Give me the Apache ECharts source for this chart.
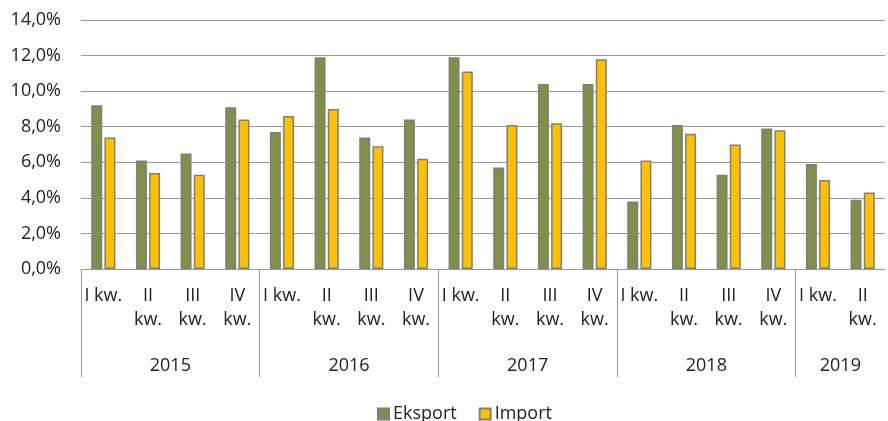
<!DOCTYPE html>
<html>
<head>
<meta charset="utf-8">
<script src="https://cdn.jsdelivr.net/npm/echarts@6/dist/echarts.min.js"></script>
<style>
  html, body { margin: 0; padding: 0; background: #fff; }
  #chart { width: 888px; height: 421px; }
</style>
</head>
<body>
<div id="chart"></div>
<script>
// dane
var years = ['2015', '2016', '2017', '2018', '2019'];
var quartersPerYear = [4, 4, 4, 4, 2];
var quarterLabels = ['I kw.', 'II\nkw.', 'III\nkw.', 'IV\nkw.'];
var eksport = [9.2, 6.1, 6.5, 9.1, 7.7, 11.9, 7.4, 8.4, 11.9, 5.7, 10.4, 10.4, 3.8, 8.1, 5.3, 7.9, 5.9, 3.9];
var importData = [7.4, 5.4, 5.3, 8.4, 8.6, 9.0, 6.9, 6.2, 11.1, 8.1, 8.2, 11.8, 6.1, 7.6, 7.0, 7.8, 5.0, 4.3];

// kategorie kwartalne + os lat (polowki kategorii)
var categories = [];
var yearAxis = [];
var yearBorders = {};
for (var i = 0; i < years.length; i++) {
  yearBorders[yearAxis.length] = true;
  for (var q = 0; q < quartersPerYear[i]; q++) {
    categories.push(quarterLabels[q]);
    yearAxis.push('', '');
  }
}
// podpis roku na srodku grupy
var pos = 0;
for (var i = 0; i < years.length; i++) {
  yearAxis[pos + quartersPerYear[i]] = years[i];
  pos += quartersPerYear[i] * 2;
}
yearAxis.push('');

var font = '"Open Sans", sans-serif';
var txt = '#222';
var gray = '#9a9a9a';

var chart = echarts.init(document.getElementById('chart'));
chart.setOption({
  animation: false,
  textStyle: { fontFamily: font },
  grid: { left: 81, width: 812, top: 20, bottom: 152, containLabel: false },
  legend: {
    top: 400,
    left: 372,
    itemWidth: 11,
    itemHeight: 11,
    itemGap: 22,
    icon: 'rect',
    textStyle: { fontFamily: font, fontSize: 18, color: txt, padding: [0, 0, 0, -1] },
    data: ['Eksport', 'Import']
  },
  xAxis: [
    {
      type: 'category',
      data: categories,
      position: 'bottom',
      axisLine: { show: true, lineStyle: { color: gray, width: 1 } },
      axisTick: { show: false },
      axisLabel: {
        interval: 0,
        margin: 15,
        fontFamily: font,
        fontSize: 18,
        lineHeight: 24,
        color: txt,
        align: 'center'
      }
    },
    {
      type: 'category',
      data: yearAxis,
      boundaryGap: false,
      position: 'bottom',
      axisLine: { show: false },
      axisTick: {
        show: true,
        length: 108,
        interval: function (idx) { return !!yearBorders[idx]; },
        lineStyle: { color: gray, width: 1 }
      },
      axisLabel: {
        interval: 0,
        margin: 85,
        fontFamily: font,
        fontSize: 18,
        lineHeight: 24,
        color: txt
      },
      splitLine: { show: false }
    }
  ],
  yAxis: {
    type: 'value',
    min: 0,
    max: 14,
    interval: 2,
    axisLine: { show: false },
    axisTick: { show: false },
    splitLine: { lineStyle: { color: gray, width: 1 } },
    axisLabel: {
      margin: 20,
      fontFamily: font,
      fontSize: 18,
      color: txt,
      formatter: function (v) { return v.toFixed(1).replace('.', ',') + '%'; }
    }
  },
  series: [
    {
      name: 'Eksport',
      type: 'bar',
      data: eksport,
      barWidth: 11,
      barGap: '20%',
      itemStyle: { color: '#7f9147', borderColor: '#7f7f7f', borderWidth: 1.5 }
    },
    {
      name: 'Import',
      type: 'bar',
      data: importData,
      barWidth: 11,
      itemStyle: { color: '#ffc000', borderColor: '#7f7f7f', borderWidth: 1.5 }
    }
  ]
});
</script>
</body>
</html>
